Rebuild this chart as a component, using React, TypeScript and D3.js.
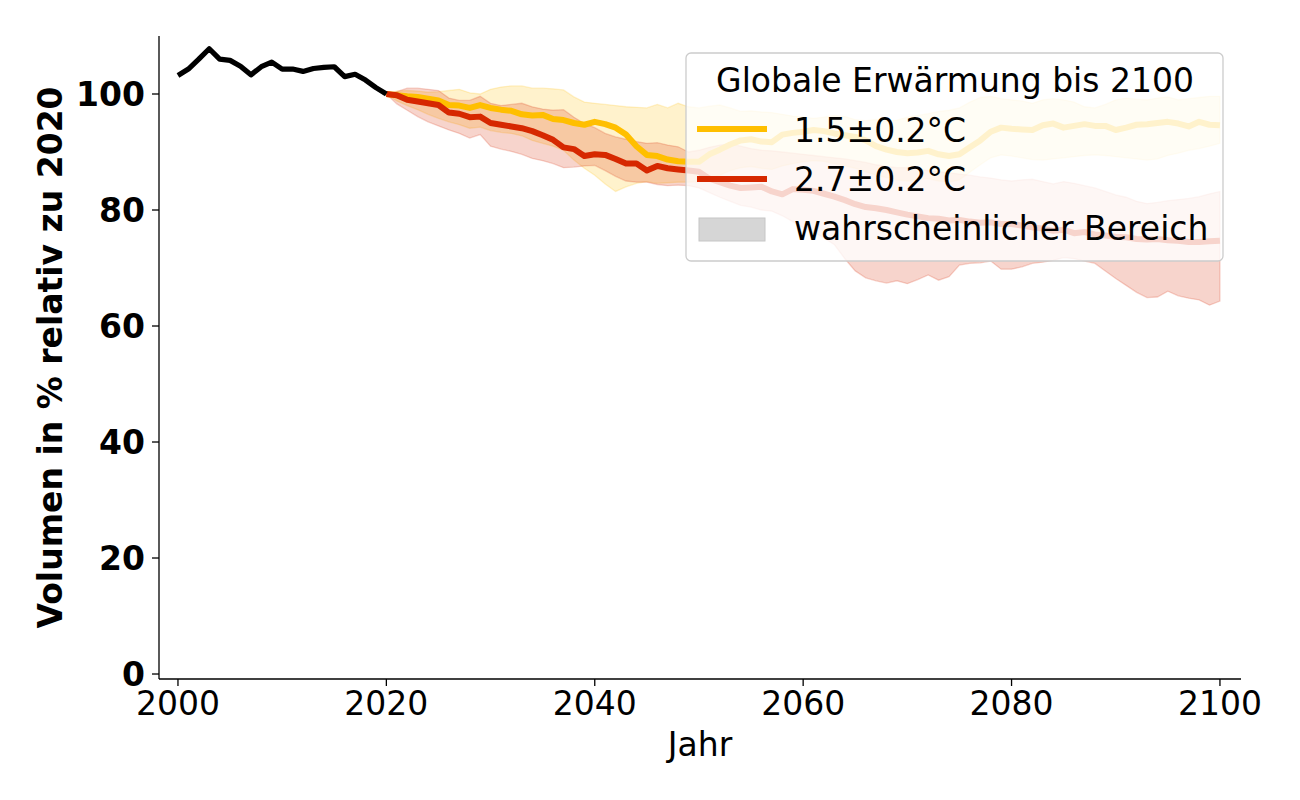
import React from "react";
import * as d3 from "d3";

// ---------- data ----------
const histYears = d3.range(2000, 2021);
const histValues = [
  103.2, 104.3, 106.0, 107.8, 106.0, 105.8, 104.8, 103.3, 104.7, 105.5, 104.3,
  104.3, 103.9, 104.4, 104.6, 104.7, 103.0, 103.4, 102.4, 101.1, 100.0,
];

const projYears = d3.range(2020, 2101);

// 1.5 °C scenario
const mean15 = [
  100.0, 99.8, 99.6, 99.5, 99.2, 98.9, 98.1, 98.0, 97.6, 98.1,
  97.6, 97.3, 97.1, 96.5, 96.3, 96.4, 95.7, 95.5, 95.0, 94.7,
  95.2, 94.8, 94.2, 93.0, 91.0, 89.5, 89.3, 88.7, 88.4, 88.3,
  88.3, 89.6, 90.4, 91.3, 92.0, 92.2, 91.8, 91.7, 93.0, 93.3,
  93.5, 93.8, 93.6, 93.2, 92.9, 92.6, 92.0, 91.0, 90.4, 90.0,
  89.8, 89.9, 90.2, 89.6, 89.3, 89.6, 90.8, 92.0, 93.5, 94.2,
  94.0, 93.9, 93.8, 94.6, 94.9, 94.2, 94.5, 94.8, 94.5, 94.5,
  93.8, 94.2, 94.7, 94.8, 95.0, 95.2, 94.9, 94.4, 95.2, 94.7,
  94.6,
];
const low15 = [
  100.0, 98.8, 98.0, 97.3, 96.5, 95.8, 95.2, 94.7, 94.1, 94.3,
  93.7, 93.4, 93.2, 92.8, 92.0, 91.5, 91.0, 90.3, 88.6, 87.2,
  86.0, 84.5, 83.2, 84.0, 84.6, 84.9, 84.6, 84.7, 84.8, 84.8,
  84.9, 85.5, 86.0, 86.8, 87.3, 87.5, 87.2, 87.0, 87.6, 88.0,
  88.3, 88.5, 88.4, 88.0, 87.6, 87.2, 86.6, 86.0, 85.6, 85.2,
  85.0, 85.2, 85.4, 85.0, 84.8, 85.2, 86.5, 87.8, 89.0, 89.5,
  89.3, 89.0, 88.7, 88.6, 88.8, 89.0, 89.2, 89.4, 89.5, 89.4,
  89.2, 89.0, 88.8, 88.6, 88.8, 89.4, 89.8, 90.3, 90.6, 91.0,
  91.5,
];
const high15 = [
  100.0, 100.5, 100.6, 100.5, 100.3, 100.4, 100.6, 100.8, 100.2, 100.0,
  100.8, 101.2, 101.4, 101.4, 101.0, 101.0, 100.9, 100.7, 99.5, 98.6,
  98.4, 98.2, 98.0, 97.8, 97.7, 97.6, 98.2, 97.6, 98.4, 97.8,
  97.6, 97.9, 98.1, 97.6, 97.0, 97.1, 96.9, 96.8, 96.5, 96.2,
  96.0, 95.8, 96.0, 96.3, 96.1, 95.6, 95.4, 95.6, 95.3, 95.5,
  96.0, 96.3, 96.6, 97.0, 97.2, 97.6, 98.6, 99.4, 99.6, 99.2,
  99.0, 98.8, 98.4, 99.0, 99.2, 99.0, 98.6, 97.8, 97.6, 98.2,
  99.0, 99.3, 99.1, 99.0, 99.3, 99.5, 99.0, 99.2, 99.4, 99.6,
  99.6,
];

// 2.7 °C scenario
const mean27 = [
  100.0, 99.8, 99.0, 98.7, 98.4, 98.1, 96.8, 96.6, 96.0, 96.1,
  95.0, 94.7, 94.4, 94.1, 93.6, 92.9, 92.1, 90.8, 90.5, 89.3,
  89.6, 89.5, 88.8, 88.0, 88.0, 86.8, 87.6, 87.2, 87.0, 86.8,
  86.6, 85.4, 84.8, 84.2, 83.8, 83.9, 84.0, 83.2, 82.7, 83.6,
  83.5, 83.3, 82.8, 82.3, 81.7, 81.0, 80.5, 80.3, 80.0, 79.6,
  79.2, 78.9, 78.6, 78.5, 78.2, 78.3, 78.0, 77.8, 77.9, 77.6,
  77.6, 77.3, 77.0, 76.8, 76.4, 76.6, 76.0, 76.2, 75.8, 75.6,
  75.4, 75.3, 75.0, 74.9, 75.0, 74.8, 74.7, 74.5, 74.5, 74.6,
  74.7,
];
const low27 = [
  100.0, 98.3, 97.2, 96.1, 95.2, 94.5, 93.8, 93.2, 92.4, 93.0,
  91.0, 90.5, 90.1, 89.6, 88.9, 88.5, 88.0, 87.3, 87.4, 87.6,
  87.7, 86.8, 85.8, 85.0, 84.8, 84.8, 84.4, 84.2, 84.3, 84.2,
  83.8, 83.0, 82.2, 81.5, 80.8, 80.5, 80.0, 79.8, 79.0, 78.0,
  77.0, 76.2, 75.2, 74.0, 71.6, 69.5, 68.3, 67.8, 67.4, 67.8,
  67.3, 68.0, 68.8, 67.9, 68.5, 70.5, 70.8, 70.9, 71.2, 69.8,
  69.8, 70.2, 70.8, 71.0, 71.3, 71.8, 71.6, 71.2, 70.8, 69.5,
  68.2, 67.0, 65.8, 64.9, 65.0, 66.0, 65.2, 64.8, 64.5, 63.6,
  64.3,
];
const high27 = [
  100.0, 100.4, 101.0, 101.0, 100.8, 100.6, 99.3, 98.9, 98.9, 99.6,
  98.4, 98.0, 98.2, 98.4, 97.8, 97.4, 97.2, 97.3, 96.0, 94.9,
  94.2, 93.2, 92.6, 92.2, 91.8, 91.5, 91.6, 91.2, 90.9, 90.0,
  90.3, 90.8, 91.2, 91.4, 91.0, 90.6, 90.3, 90.2, 90.0, 89.8,
  89.6, 89.4, 89.2, 89.0, 88.8, 88.5, 88.2, 87.8, 87.5, 87.3,
  87.3, 87.0, 86.8, 86.6, 86.4, 86.2, 86.0, 85.7, 85.5, 85.2,
  85.0, 85.2, 85.3, 84.9, 84.5, 84.9, 84.6, 84.2, 83.8, 83.2,
  82.6, 82.2, 81.5, 81.1, 81.3, 81.6, 81.8, 82.0, 82.3, 82.8,
  83.2,
];

const xTicks = [2000, 2020, 2040, 2060, 2080, 2100];
const yTicks = [0, 20, 40, 60, 80, 100];

const legendTitle = "Globale Erwärmung bis 2100";
const label15 = "1.5±0.2°C";
const label27 = "2.7±0.2°C";
const labelRange = "wahrscheinlicher Bereich";
const xLabel = "Jahr";
const yLabel = "Volumen in % relativ zu 2020";

// ---------- styles ----------
const COL15 = "#ffbf00";
const COL27 = "#d62800";
const FONT = "DejaVu Sans";
const FS = 33;

export default function App() {
  const W = 1300;
  const H = 800;
  const left = 159, right = 1241, top = 36, bottom = 679;

  const x = d3.scaleLinear().domain([1998.18, 2102.02]).range([left, right]);
  const y = d3.scaleLinear().domain([-0.86, 110]).range([bottom, top]);

  const proj = projYears.map((yr, i) => ({
    yr,
    m15: mean15[i], l15: low15[i], h15: high15[i],
    m27: mean27[i], l27: low27[i], h27: high27[i],
  }));
  const hist = histYears.map((yr, i) => ({ yr, v: histValues[i] }));

  const area15 = d3.area<any>().x((d) => x(d.yr)).y0((d) => y(d.l15)).y1((d) => y(d.h15));
  const area27 = d3.area<any>().x((d) => x(d.yr)).y0((d) => y(d.l27)).y1((d) => y(d.h27));
  const line15 = d3.line<any>().x((d) => x(d.yr)).y((d) => y(d.m15));
  const line27 = d3.line<any>().x((d) => x(d.yr)).y((d) => y(d.m27));
  const lineHist = d3.line<any>().x((d) => x(d.yr)).y((d) => y(d.v));

  return (
    <svg
      width={W}
      height={H}
      style={{ position: "absolute", left: 0, top: 0, background: "#fff" }}
      fontFamily={FONT}
    >
      <rect x={0} y={0} width={W} height={H} fill="#fff" />
      {/* bands */}
      <path d={area15(proj) || ""} fill={COL15} fillOpacity={0.2} stroke={COL15} strokeOpacity={0.2} strokeWidth={1.3} />
      <path d={area27(proj) || ""} fill={COL27} fillOpacity={0.2} stroke={COL27} strokeOpacity={0.2} strokeWidth={1.3} />
      {/* lines */}
      <path d={line15(proj) || ""} fill="none" stroke={COL15} strokeWidth={6} strokeLinejoin="round" />
      <path d={line27(proj) || ""} fill="none" stroke={COL27} strokeWidth={6} strokeLinejoin="round" />
      <path d={lineHist(hist) || ""} fill="none" stroke="#000" strokeWidth={5.2} strokeLinejoin="round" />

      {/* axes */}
      <line x1={left} x2={left} y1={top} y2={bottom} stroke="#000" strokeWidth={1.3} />
      <line x1={left} x2={right} y1={bottom} y2={bottom} stroke="#000" strokeWidth={1.3} />
      {xTicks.map((t) => (
        <g key={"x" + t}>
          <line x1={x(t)} x2={x(t)} y1={bottom} y2={bottom + 7} stroke="#000" strokeWidth={1.3} />
          <text x={x(t)} y={bottom + 36} textAnchor="middle" fontSize={FS} fill="#000">
            {t}
          </text>
        </g>
      ))}
      {yTicks.map((t) => (
        <g key={"y" + t}>
          <line x1={left - 7} x2={left} y1={y(t)} y2={y(t)} stroke="#000" strokeWidth={1.3} />
          <text x={left - 14} y={y(t)} dy="0.36em" textAnchor="end" fontSize={FS} fontWeight="bold" fill="#000">
            {t}
          </text>
        </g>
      ))}
      <text x={(left + right) / 2} y={756} textAnchor="middle" fontSize={FS} fill="#000">
        {xLabel}
      </text>
      <text
        transform={`translate(62, ${(top + bottom) / 2}) rotate(-90)`}
        textAnchor="middle"
        fontSize={FS}
        fontWeight="bold"
        fill="#000"
      >
        {yLabel}
      </text>

      {/* legend */}
      <g>
        <rect x={686} y={53} width={537} height={208} rx={5} ry={5} fill="#fff" fillOpacity={0.8} stroke="#cccccc" strokeWidth={1.3} />
        <text x={955} y={92} textAnchor="middle" fontSize={FS} fill="#000">
          {legendTitle}
        </text>
        <line x1={697} x2={767} y1={129} y2={129} stroke={COL15} strokeWidth={6} />
        <text x={794} y={142} fontSize={FS} fill="#000">{label15}</text>
        <line x1={697} x2={767} y1={179} y2={179} stroke={COL27} strokeWidth={6} />
        <text x={794} y={191} fontSize={FS} fill="#000">{label27}</text>
        <rect x={699} y={218} width={66} height={23} fill="#d6d6d6" stroke="#c6c6c6" strokeWidth={1} />
        <text x={794} y={240} fontSize={FS} fill="#000">{labelRange}</text>
      </g>
    </svg>
  );
}
